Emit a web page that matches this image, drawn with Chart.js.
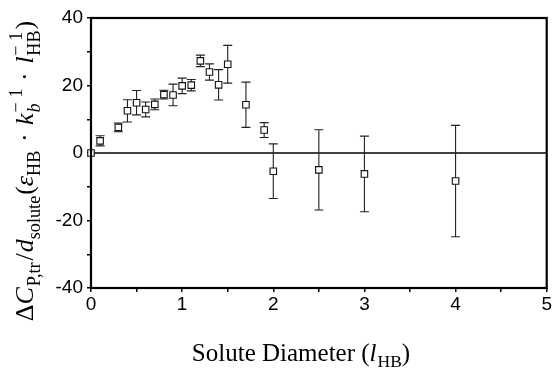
<!DOCTYPE html>
<html>
<head>
<meta charset="utf-8">
<script src="https://cdn.jsdelivr.net/npm/chart.js"></script>
<style>
  html, body { margin: 0; padding: 0; background: #fff; }
  #wrap { width: 553px; height: 375px; }
</style>
</head>
<body>
<div id="wrap"><canvas id="chart" width="553" height="375"></canvas></div>
<script>
// data
const diameters = [0, 0.1, 0.3, 0.4, 0.5, 0.6, 0.7, 0.8, 0.9, 1.0, 1.1, 1.2, 1.3, 1.4, 1.5, 1.7, 1.9, 2.0, 2.5, 3.0, 4.0];
const cpValues = [0, 3.6, 7.6, 12.5, 14.9, 12.9, 14.4, 17.3, 17.2, 19.9, 20.1, 27.3, 24.0, 20.2, 26.3, 14.3, 6.8, -5.4, -5.0, -6.2, -8.3];
const cpErrors = [0, 1.5, 1.3, 3.3, 3.6, 2.2, 1.6, 1.3, 3.2, 2.3, 1.7, 1.7, 2.4, 4.5, 5.6, 6.7, 2.2, 8.1, 11.9, 11.2, 16.5];
const xTicks = [0, 1, 2, 3, 4, 5];
const yTicks = [-40, -20, 0, 20, 40];

const SERIF = '"Liberation Serif", "DejaVu Serif", serif';
const SANS = '"Liberation Sans", Arial, sans-serif';

// rich text: {t, i (italic), pos: 'sub'|'sup'} or stacked {sup, sub, subI}
function segFont(size, italic) {
  return (italic ? 'italic ' : '') + size + 'px ' + SERIF;
}
function segWidth(ctx, s, size) {
  const small = size * 0.7;
  if (s.sup !== undefined) {
    ctx.font = segFont(small, false);
    const a = ctx.measureText(s.sup).width;
    ctx.font = segFont(small, !!s.subI);
    const b = ctx.measureText(s.sub).width;
    return Math.max(a, b) + 1;
  }
  const sz = s.pos ? small : size;
  ctx.font = segFont(sz, !!s.i);
  return ctx.measureText(s.t).width + (s.pad || 0);
}
function drawRich(ctx, segs, size) {
  const small = size * 0.7;
  let x = 0;
  ctx.textBaseline = 'alphabetic';
  ctx.textAlign = 'left';
  segs.forEach(s => {
    const w = segWidth(ctx, s, size);
    if (s.sup !== undefined) {
      ctx.font = segFont(small, false);
      ctx.fillText(s.sup, x, -size * 0.42);
      ctx.font = segFont(small, !!s.subI);
      ctx.fillText(s.sub, x, size * 0.28);
    } else {
      const sz = s.pos ? small : size;
      ctx.font = segFont(sz, !!s.i);
      const dy = s.pos === 'sub' ? size * 0.25 : (s.pos === 'sup' ? -size * 0.4 : 0);
      ctx.fillText(s.t, x, dy);
    }
    x += w;
  });
}
function richWidth(ctx, segs, size) {
  return segs.reduce((a, s) => a + segWidth(ctx, s, size), 0);
}

const yTitle = [
  {t: '\u0394'}, {t: 'C', i: true, pad: 1}, {t: 'P,tr', pos: 'sub', pad: 2}, {t: '/', pad: 1},
  {t: 'd', i: true}, {t: 'solute', pos: 'sub', pad: 1}, {t: '('},
  {t: '\u03b5', i: true}, {t: 'HB', pos: 'sub', pad: 2}, {t: ' \u00b7 ', pad: 2},
  {t: 'k', i: true, pad: 1}, {sup: '\u2212 1', sub: 'b', subI: true}, {t: ' \u00b7 ', pad: 2},
  {t: 'l', i: true, pad: 1}, {sup: '\u2212 1', sub: 'HB'}, {t: ')'}
];
const xTitle = [
  {t: 'Solute Diameter ('}, {t: 'l', i: true, pad: 1}, {t: 'HB', pos: 'sub'}, {t: ')'}
];

const framePlugin = {
  id: 'frame',
  beforeDatasetsDraw(chart) {
    const {ctx, chartArea: a, scales} = chart;
    const xs = scales.x, ys = scales.y;
    ctx.save();
    // zero line
    const y0 = ys.getPixelForValue(0);
    ctx.strokeStyle = '#000';
    ctx.lineWidth = 1.6;
    ctx.beginPath();
    ctx.moveTo(a.left, y0);
    ctx.lineTo(a.right, y0);
    ctx.stroke();
    // error bars
    ctx.strokeStyle = '#222';
    ctx.lineWidth = 1.1;
    diameters.forEach((d, i) => {
      const e = cpErrors[i];
      if (!e) return;
      const px = xs.getPixelForValue(d);
      const top = ys.getPixelForValue(cpValues[i] + e);
      const bot = ys.getPixelForValue(cpValues[i] - e);
      ctx.beginPath();
      ctx.moveTo(px, top); ctx.lineTo(px, bot);
      ctx.moveTo(px - 4.5, top); ctx.lineTo(px + 4.5, top);
      ctx.moveTo(px - 4.5, bot); ctx.lineTo(px + 4.5, bot);
      ctx.stroke();
    });
    ctx.restore();
  },
  afterDraw(chart) {
    const {ctx, chartArea: a} = chart;
    ctx.save();
    ctx.strokeStyle = '#000';
    ctx.lineWidth = 2.2;
    ctx.strokeRect(a.left, a.top, a.right - a.left, a.bottom - a.top);
    ctx.fillStyle = '#000';
    // y title
    const ysz = 26;
    const yw = richWidth(ctx, yTitle, ysz);
    ctx.save();
    ctx.translate(33, 171 + yw / 2);
    ctx.rotate(-Math.PI / 2);
    drawRich(ctx, yTitle, ysz);
    ctx.restore();
    // x title
    const xsz = 25;
    const xw = richWidth(ctx, xTitle, xsz);
    ctx.save();
    ctx.translate(301 - xw / 2, 361);
    drawRich(ctx, xTitle, xsz);
    ctx.restore();
    ctx.restore();
  }
};

new Chart(document.getElementById('chart'), {
  type: 'scatter',
  data: {
    datasets: [{
      data: diameters.map((d, i) => ({x: d, y: cpValues[i]})),
      pointStyle: 'rect',
      pointRadius: 4.6,
      pointHoverRadius: 4.6,
      borderColor: '#111',
      backgroundColor: '#fff',
      borderWidth: 1.1,
      clip: false
    }]
  },
  options: {
    responsive: false,
    animation: false,
    events: [],
    layout: { padding: { top: 18, right: 5, left: 0, bottom: 0 } },
    plugins: { legend: { display: false }, tooltip: { enabled: false } },
    scales: {
      x: {
        type: 'linear', min: 0, max: 5,
        ticks: {
          stepSize: 0.5, padding: 1, color: '#000',
          font: { family: SANS, size: 19 },
          maxRotation: 0,
          callback: v => xTicks.includes(v) ? String(v) : ''
        },
        grid: { drawOnChartArea: false, drawTicks: true, tickLength: 4, color: '#000', lineWidth: 1.5 },
        border: { display: true, color: '#000', width: 2 },
        afterFit: s => { s.height = 87; }
      },
      y: {
        type: 'linear', min: -40, max: 40,
        ticks: {
          stepSize: 10, padding: 4, color: '#000',
          font: { family: SANS, size: 19 },
          callback: v => yTicks.includes(v) ? String(v) : ''
        },
        grid: { drawOnChartArea: false, drawTicks: true, tickLength: 4, color: '#000', lineWidth: 1.5 },
        border: { display: true, color: '#000', width: 2 },
        afterFit: s => { s.width = 91; }
      }
    }
  },
  plugins: [framePlugin]
});
</script>
</body>
</html>
